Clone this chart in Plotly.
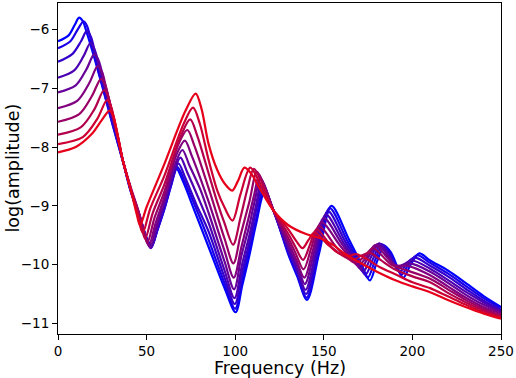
import plotly.graph_objects as go

# Frequencies (Hz) and log(amplitude), one pair per curve (blue -> red)
freq_0 = [0, 6, 9.5, 11.9, 14, 16.2, 20.5, 26, 31, 36.6, 41, 46, 50, 52.8, 56, 60, 63.5, 66.9, 70.5, 77, 85, 94, 100.2, 104, 108, 112, 116.5, 121.6, 130, 135, 140.5, 147.4, 154.3, 164, 171, 176, 180, 184.2, 188, 194.8, 199, 203.9, 210, 220, 230, 240, 250]
amp_0 = [-6.20, -6.10, -5.92, -5.80, -5.86, -6.05, -6.48, -7.08, -7.64, -8.24, -8.75, -9.2, -9.55, -9.68, -9.42, -9.05, -8.68, -8.37, -8.58, -9.08, -9.70, -10.4, -10.81, -10.35, -9.84, -9.28, -8.78, -9.08, -9.83, -10.2, -10.6, -9.8, -9.0, -9.56, -9.98, -10.27, -9.95, -9.68, -9.8, -10.22, -10.0, -9.81, -9.93, -10.1, -10.31, -10.53, -10.72]

freq_1 = [0, 7, 11.5, 14.5, 16.5, 20.5, 26, 31, 36.6, 41, 46, 50, 52.7, 56, 60, 64, 67.4, 71, 78, 85, 94, 100, 104, 108, 112, 116, 121.6, 130, 135, 140.3, 146.8, 153.3, 163, 170, 174.8, 179, 183.2, 187, 193.8, 198, 202.6, 210, 220, 230, 240, 250]
amp_1 = [-6.32, -6.2, -5.98, -5.86, -5.95, -6.44, -7.06, -7.63, -8.24, -8.74, -9.18, -9.55, -9.70, -9.42, -9.06, -8.64, -8.34, -8.55, -9.05, -9.58, -10.32, -10.75, -10.24, -9.73, -9.2, -8.72, -9.08, -9.8, -10.17, -10.56, -9.8, -9.04, -9.58, -9.96, -10.22, -9.92, -9.66, -9.78, -10.17, -9.98, -9.84, -9.97, -10.15, -10.36, -10.57, -10.74]

freq_2 = [0, 8, 13, 16.2, 18.5, 22, 27, 32, 36.6, 41, 46, 50, 52.5, 56, 60, 64.5, 68, 71.5, 78, 85, 94, 99.8, 104, 108, 111.5, 115.5, 121.6, 130, 135, 140, 146.2, 152.3, 162, 169, 173.5, 177.8, 182.2, 186, 192.8, 197, 201.3, 210, 220, 230, 240, 250]
amp_2 = [-6.55, -6.42, -6.2, -6.03, -6.12, -6.55, -7.12, -7.7, -8.23, -8.73, -9.17, -9.56, -9.72, -9.4, -9.02, -8.55, -8.28, -8.5, -8.97, -9.44, -10.22, -10.67, -10.12, -9.62, -9.12, -8.66, -9.08, -9.77, -10.12, -10.5, -9.8, -9.09, -9.6, -9.95, -10.17, -9.9, -9.65, -9.77, -10.12, -9.97, -9.88, -10.02, -10.2, -10.41, -10.61, -10.77]

freq_3 = [0, 9, 14.5, 18.3, 20.5, 24, 28, 32.5, 36.6, 41, 46, 50, 52.4, 56, 60, 65.5, 69.1, 72.8, 79, 85, 94, 99.6, 104, 108, 111.5, 115, 121.6, 130, 135, 139.7, 145.5, 151.2, 161, 168, 172.2, 176.5, 181.2, 185, 191.8, 196, 200, 210, 220, 230, 240, 250]
amp_3 = [-6.82, -6.7, -6.45, -6.23, -6.33, -6.7, -7.18, -7.72, -8.23, -8.72, -9.16, -9.56, -9.72, -9.36, -8.97, -8.42, -8.18, -8.42, -8.85, -9.29, -10.1, -10.57, -9.98, -9.5, -9.03, -8.6, -9.08, -9.73, -10.07, -10.43, -9.79, -9.15, -9.62, -9.94, -10.12, -9.88, -9.64, -9.76, -10.07, -9.98, -9.93, -10.07, -10.26, -10.46, -10.64, -10.79]

freq_4 = [0, 10, 16, 20.5, 22.8, 26, 29.5, 33, 36.6, 41, 46, 49.5, 52, 55.5, 60, 66, 70.2, 74, 80, 85, 94, 99.4, 103.5, 108, 111, 114.3, 121.6, 130, 135, 139.3, 144.7, 150, 160, 167, 170.8, 175.2, 180.2, 184, 190.8, 195, 198.7, 210, 220, 230, 240, 250]
amp_4 = [-7.07, -6.95, -6.68, -6.42, -6.52, -6.88, -7.3, -7.76, -8.23, -8.71, -9.15, -9.55, -9.71, -9.35, -8.92, -8.3, -8.05, -8.3, -8.7, -9.12, -9.95, -10.42, -9.85, -9.33, -8.92, -8.54, -9.08, -9.68, -10.0, -10.33, -9.77, -9.21, -9.64, -9.93, -10.07, -9.87, -9.65, -9.76, -10.03, -10.0, -9.98, -10.12, -10.31, -10.51, -10.68, -10.81]

freq_5 = [0, 11, 17.5, 22.5, 24.8, 27.5, 30.5, 33.5, 36.6, 41, 45.5, 49, 51.3, 55, 60, 67, 71.6, 75.5, 85, 94, 99.2, 103.5, 108, 110.8, 113.5, 117, 121.6, 130, 134.5, 139, 143.9, 148.7, 159, 166, 169.4, 174, 179, 183, 189.6, 194, 197.3, 210, 220, 230, 240, 250]
amp_5 = [-7.34, -7.21, -6.92, -6.62, -6.72, -7.04, -7.4, -7.8, -8.23, -8.7, -9.12, -9.5, -9.68, -9.3, -8.85, -8.12, -7.89, -8.15, -8.93, -9.77, -10.22, -9.7, -9.15, -8.8, -8.48, -8.7, -9.08, -9.62, -9.92, -10.22, -9.75, -9.28, -9.67, -9.92, -10.02, -9.87, -9.67, -9.78, -10.0, -10.02, -10.02, -10.18, -10.37, -10.56, -10.72, -10.83]

freq_6 = [0, 12, 19, 24.3, 26.6, 29, 31.5, 34, 36.6, 41, 45, 48.5, 50.4, 54.5, 60, 68, 73, 77, 85, 94, 99, 103, 108, 112.3, 116.5, 121.6, 130, 134, 138.6, 143, 147.3, 157, 164, 168, 172.5, 177.8, 182, 188, 195, 210, 220, 230, 240, 250]
amp_6 = [-7.57, -7.44, -7.14, -6.84, -6.94, -7.22, -7.52, -7.86, -8.23, -8.68, -9.05, -9.45, -9.63, -9.2, -8.76, -7.95, -7.71, -7.98, -8.7, -9.56, -9.98, -9.5, -8.93, -8.42, -8.68, -9.08, -9.55, -9.8, -10.08, -9.71, -9.34, -9.7, -9.9, -9.97, -9.87, -9.72, -9.82, -10.0, -10.08, -10.24, -10.42, -10.6, -10.75, -10.86]

freq_7 = [0, 13, 20.5, 26, 28.2, 30.5, 33, 36.6, 41, 45, 47.5, 49.2, 53.5, 60, 69.5, 74.6, 78.5, 85, 90, 94, 98.8, 103, 107, 110.5, 115, 121.6, 130, 134, 138.3, 142.2, 146, 155, 162, 166.5, 171, 176, 182, 190, 200, 210, 220, 230, 240, 250]
amp_7 = [-7.79, -7.66, -7.36, -7.03, -7.13, -7.4, -7.72, -8.23, -8.7, -9.12, -9.4, -9.56, -9.12, -8.64, -7.8, -7.53, -7.8, -8.45, -8.95, -9.3, -9.66, -9.2, -8.7, -8.37, -8.6, -9.08, -9.48, -9.7, -9.92, -9.66, -9.4, -9.72, -9.87, -9.92, -9.85, -9.8, -9.92, -10.08, -10.2, -10.3, -10.48, -10.64, -10.78, -10.88]

freq_8 = [0, 14, 22, 27.7, 29.8, 32, 34.3, 36.6, 41, 44.5, 47.8, 52, 60, 71, 76.2, 80, 85, 90, 94, 98.5, 103, 108.5, 114, 121.6, 130, 134.5, 138, 141.4, 144.8, 152, 158, 164, 168, 174, 182, 190, 200, 210, 220, 230, 240, 250]
amp_8 = [-7.95, -7.83, -7.53, -7.2, -7.3, -7.56, -7.88, -8.23, -8.72, -9.1, -9.46, -9.05, -8.49, -7.6, -7.33, -7.6, -8.22, -8.75, -9.03, -9.25, -8.8, -8.35, -8.62, -9.08, -9.4, -9.6, -9.72, -9.58, -9.45, -9.65, -9.8, -9.85, -9.82, -9.9, -10.05, -10.16, -10.3, -10.4, -10.54, -10.68, -10.81, -10.9]

freq_9 = [0, 10, 19, 24.5, 29.1, 31.2, 33.5, 36.6, 41.5, 44.5, 46.3, 50, 60, 72, 77.7, 81, 85, 90, 94, 98.3, 101.5, 105.2, 109, 113, 121.6, 130, 140, 148, 155, 162, 170, 180, 190, 200, 210, 220, 230, 240, 250]
amp_9 = [-8.09, -8.0, -7.78, -7.55, -7.38, -7.47, -7.78, -8.23, -8.78, -9.15, -9.33, -9.02, -8.29, -7.38, -7.09, -7.35, -7.95, -8.4, -8.62, -8.74, -8.58, -8.35, -8.45, -8.66, -9.08, -9.33, -9.48, -9.55, -9.66, -9.82, -9.96, -10.12, -10.26, -10.37, -10.47, -10.6, -10.72, -10.83, -10.92]

x_ticks = [0, 50, 100, 150, 200, 250]
y_ticks = [-11, -10, -9, -8, -7, -6]

curves = [(freq_0, amp_0), (freq_1, amp_1), (freq_2, amp_2), (freq_3, amp_3), (freq_4, amp_4),
          (freq_5, amp_5), (freq_6, amp_6), (freq_7, amp_7), (freq_8, amp_8), (freq_9, amp_9)]

fig = go.Figure()
n = len(curves)
for i, (fx, ay) in enumerate(curves):
    t = i / n
    color = f"rgb({round(255 * t)},0,{round(255 * (1 - t))})"
    fig.add_trace(go.Scatter(x=fx, y=ay, mode="lines",
                             line=dict(color=color, width=2.2, shape="spline", smoothing=0.9),
                             showlegend=False, hoverinfo="skip"))

font_family = "DejaVu Sans, Liberation Sans, sans-serif"
axis_common = dict(ticks="outside", ticklen=5, tickwidth=1, tickcolor="black",
                   showline=True, mirror=True, linecolor="black", linewidth=1,
                   showgrid=False, zeroline=False, ticklabeloverflow="allow",
                   tickfont=dict(family=font_family, size=13.5, color="black"))
fig.update_xaxes(range=[0, 250], tickvals=x_ticks, **axis_common)
fig.update_yaxes(range=[-11.18, -5.55], tickvals=y_ticks, **axis_common)

fig.update_layout(
    width=516, height=378,
    margin=dict(l=58, r=12, t=2, b=44),
    paper_bgcolor="white", plot_bgcolor="white",
    annotations=[
        dict(text="Frequency (Hz)", xref="paper", yref="paper", x=0.5, y=0,
             yshift=-34, xanchor="center", yanchor="middle", showarrow=False,
             font=dict(family=font_family, size=17.5, color="black")),
        dict(text="log(amplitude)", xref="paper", yref="paper", x=0, y=0.5,
             xshift=-46, xanchor="center", yanchor="middle", showarrow=False,
             textangle=-90, font=dict(family=font_family, size=17.5, color="black")),
    ],
)

fig.write_html("out.html", config={"displayModeBar": False},
               post_script="document.body.style.margin='0';document.body.style.padding='0';")
